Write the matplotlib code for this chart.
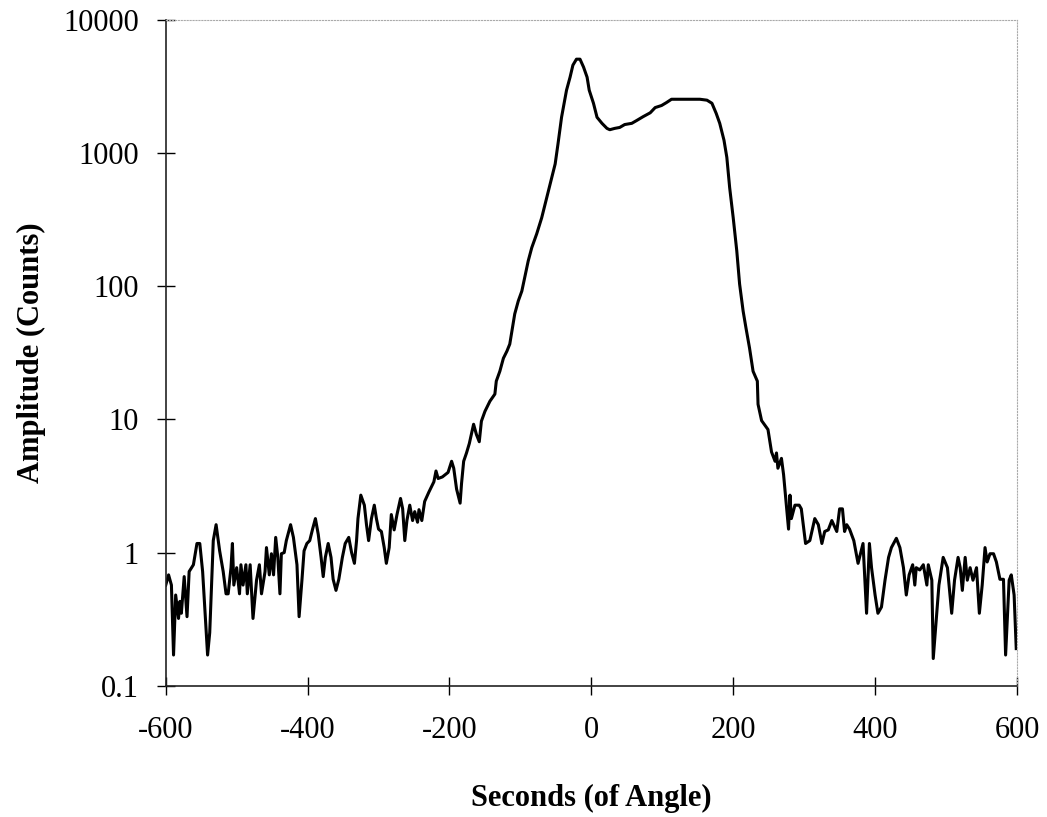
import matplotlib
matplotlib.use("Agg")
import matplotlib.pyplot as plt
from matplotlib.ticker import FixedLocator, FixedFormatter

# rocking curve
seconds = [-600, -596, -592, -589, -586, -582, -580, -578, -574, -570,
           -567, -561, -556, -552, -548, -541, -538, -533, -529, -524,
           -519, -515, -512, -508, -506, -504, -500, -496, -494, -491,
           -487, -485, -481, -477, -472, -468, -465, -460, -458,
           -454, -451, -448, -445, -442, -439, -437, -433, -430, -424,
           -420, -415, -412, -408, -405, -401, -397, -393, -389, -385,
           -381, -378, -375, -371, -367, -364, -360, -356, -351, -347,
           -342, -338, -334, -331, -329, -325, -320, -317, -314, -310, -306,
           -303, -300, -296, -292, -289, -285, -282, -278, -274, -269,
           -266, -263, -260, -256, -252, -249, -245, -243, -239, -235,
           -229, -222, -219, -216, -210, -206, -202, -197, -194, -190,
           -185, -183, -180, -176, -172,
           -166, -162, -158, -155, -150, -143, -136, -134, -129, -124,
           -119, -115, -112, -108, -103, -98, -94, -89,
           -84, -77, -70, -65, -58, -51, -47, -42, -35, -30,
           -26, -21, -16, -11, -6, -3, 3, 8, 15, 22,
           26, 33, 40, 47, 57, 64, 73, 83, 90, 99,
           106, 113, 125, 139, 153, 163, 170, 176, 181, 187,
           191, 195, 200, 205, 209, 214, 218, 223, 228, 234,
           235, 240, 249, 254, 259, 261, 263, 268, 271, 278,
           280, 282, 287, 293, 296, 302, 308, 315, 320, 325,
           329, 334, 339, 346, 350, 354, 357, 360, 364, 370,
           376, 383, 386, 388, 392, 395, 400, 404, 409, 414,
           419, 423, 430, 435, 440, 444, 448, 453, 456, 458,
           463, 468, 473, 475, 480, 482, 487, 490, 496, 502,
           508, 512, 517, 520, 523, 527, 530, 534, 538, 543,
           547, 551, 555, 558, 562, 567, 571, 576, 581, 584,
           589, 592, 596, 599]

counts = [0.57, 0.68, 0.57, 0.17, 0.48, 0.32, 0.43, 0.35, 0.66, 0.33,
          0.72, 0.81, 1.17, 1.17, 0.72, 0.17, 0.25, 1.23, 1.62, 1.03,
          0.72, 0.49, 0.49, 0.77, 1.17, 0.57, 0.77, 0.49, 0.81, 0.57,
          0.81, 0.49, 0.81, 0.32, 0.62, 0.81, 0.49, 0.72, 1.09,
          0.68, 0.98, 0.68, 1.30, 0.92, 0.49, 0.98, 1.00, 1.23, 1.62,
          1.30, 0.81, 0.33, 0.62, 1.03, 1.17, 1.23, 1.50, 1.80, 1.37,
          0.92, 0.66, 0.92, 1.17, 0.92, 0.63, 0.52, 0.63, 0.92, 1.17,
          1.30, 1.00, 0.83, 1.23, 1.80, 2.70, 2.27, 1.62, 1.23, 1.80, 2.27,
          1.80, 1.50, 1.44, 1.09, 0.83, 1.09, 1.93, 1.48, 1.93, 2.55,
          2.13, 1.23, 1.74, 2.27, 1.74, 2.03, 1.69, 2.10, 1.74, 2.42,
          2.85, 3.40, 4.10, 3.60, 3.70, 3.85, 4.00, 4.85, 4.30, 3.00,
          2.35, 3.30, 4.85, 5.60, 6.60,
          9.2, 7.7, 6.8, 9.7, 11.5, 13.7, 15.5, 19.4, 23, 28.8,
          32.6, 36.8, 46, 62, 77.6, 92, 116, 155,
          195, 248, 327, 417, 590, 830, 1175, 1860, 2970, 3720,
          4580, 5080, 5080, 4430, 3720, 2970, 2370, 1860, 1675, 1535,
          1500, 1535, 1560, 1640, 1675, 1760, 1880, 2010, 2200, 2280,
          2400, 2540, 2540, 2540, 2540, 2500, 2370, 1990, 1675, 1250,
          930, 550, 327, 185, 104, 65, 48.6, 34.4, 23, 19.4,
          13, 9.8, 8.4, 5.7, 4.85, 5.6, 4.3, 5.1, 3.85, 1.5,
          2.7, 1.8, 2.27, 2.27, 2.13, 1.17, 1.23, 1.8, 1.62, 1.17,
          1.44, 1.48, 1.74, 1.44, 2.13, 2.13, 1.44, 1.62, 1.5, 1.23,
          0.83, 1.17, 0.57, 0.35, 1.17, 0.77, 0.48, 0.35, 0.39, 0.62,
          0.92, 1.09, 1.28, 1.09, 0.77, 0.48, 0.68, 0.81, 0.57, 0.77,
          0.74, 0.81, 0.57, 0.81, 0.62, 0.16, 0.35, 0.57, 0.92, 0.77,
          0.35, 0.62, 0.92, 0.77, 0.52, 0.92, 0.62, 0.77, 0.62, 0.77,
          0.35, 0.57, 1.09, 0.85, 0.98, 0.98, 0.85, 0.63, 0.63, 0.17,
          0.62, 0.68, 0.48, 0.19]

x_ticks = [-600, -400, -200, 0, 200, 400, 600]
y_ticks = [0.1, 1, 10, 100, 1000, 10000]
y_labels = ["0.1", "1", "10", "100", "1000", "10000"]

plt.rcParams['font.family'] = ['Liberation Serif', 'DejaVu Serif']

fig = plt.figure(figsize=(10.47, 8.17), dpi=100)
ax = fig.add_axes([0.1583, 0.1607, 0.8130, 0.8148])

ax.plot(seconds, counts, color='black', lw=2.2)

ax.set_yscale('log')
ax.set_xlim(-600, 600)
ax.set_ylim(0.1, 10000)
ax.set_xticks(x_ticks)
ax.set_xticklabels([str(t) for t in x_ticks])
ax.yaxis.set_major_locator(FixedLocator(y_ticks))
ax.yaxis.set_major_formatter(FixedFormatter(y_labels))
ax.yaxis.set_minor_locator(FixedLocator([]))
ax.tick_params(direction='inout', length=13, width=1.0, labelsize=22)
ax.tick_params(axis='y', pad=13)
ax.tick_params(axis='x', pad=15)

for side in ['left', 'bottom']:
    ax.spines[side].set_color('#222222')
    ax.spines[side].set_linewidth(1.2)
for side in ['top', 'right']:
    ax.spines[side].set_color('#aaaaaa')
    ax.spines[side].set_linewidth(0.8)
    ax.spines[side].set_linestyle(':')

ax.set_xlabel('Seconds (of Angle)', fontsize=22, fontweight='bold', labelpad=28)
ax.set_ylabel('Amplitude (Counts)', fontsize=22, fontweight='bold', labelpad=12)

fig.savefig('out.png', dpi=100)
